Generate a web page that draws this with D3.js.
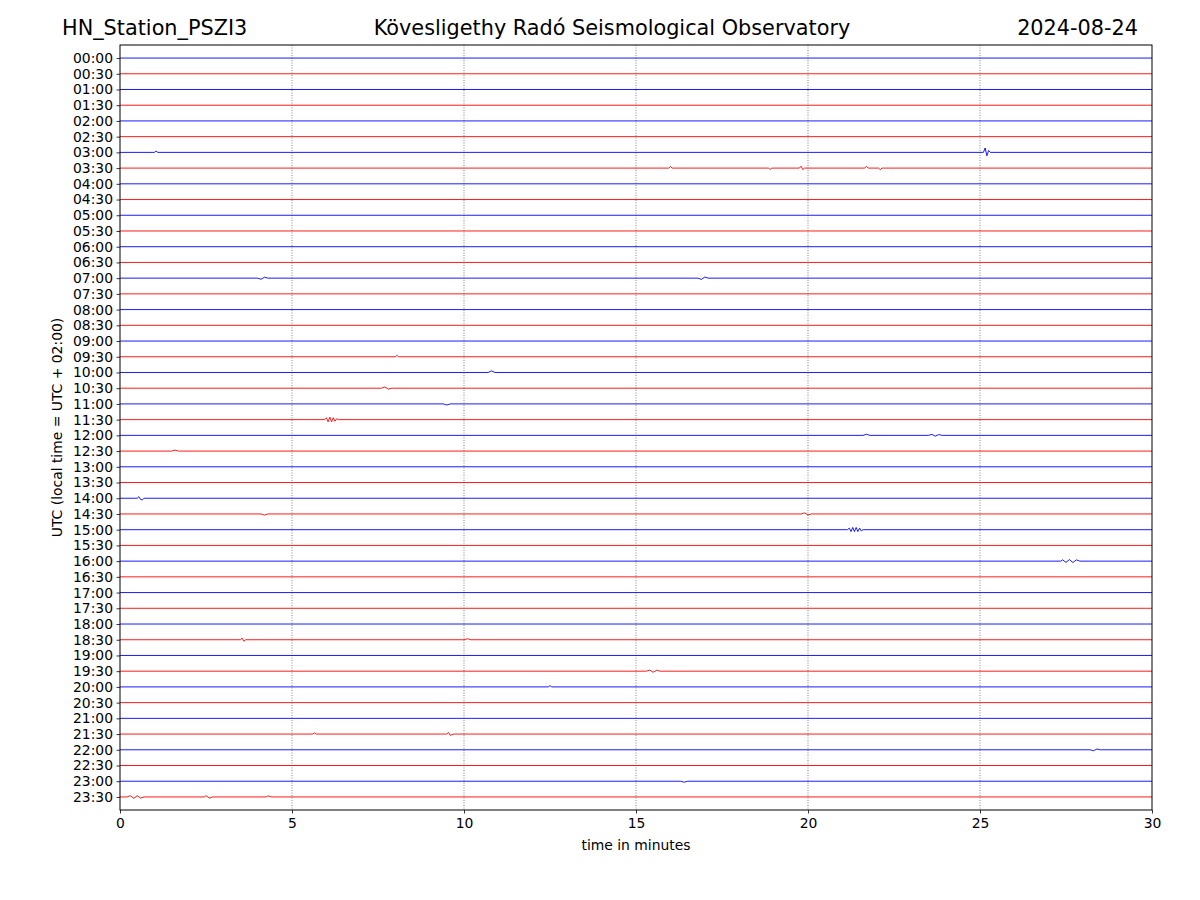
<!DOCTYPE html>
<html>
<head>
<meta charset="utf-8">
<script src="https://cdn.jsdelivr.net/npm/d3@7"></script>
<style>
  body { margin: 0; background: #fff; }
  text { font-family: "DejaVu Sans", sans-serif; }
</style>
</head>
<body>
<div id="chart"></div>
<script>
const width = 1200;
const height = 900;

// ---- data ----
const stationName = "HN_Station_PSZI3";
const observatory = "Kövesligethy Radó Seismological Observatory";
const dayLabel = "2024-08-24";

const rowLabels = [
  "00:00", "00:30", "01:00", "01:30", "02:00", "02:30", "03:00", "03:30",
  "04:00", "04:30", "05:00", "05:30", "06:00", "06:30", "07:00", "07:30",
  "08:00", "08:30", "09:00", "09:30", "10:00", "10:30", "11:00", "11:30",
  "12:00", "12:30", "13:00", "13:30", "14:00", "14:30", "15:00", "15:30",
  "16:00", "16:30", "17:00", "17:30", "18:00", "18:30", "19:00", "19:30",
  "20:00", "20:30", "21:00", "21:30", "22:00", "22:30", "23:00", "23:30",
];
const xTicks = [0, 5, 10, 15, 20, 25, 30];

// visible wiggles per row: [minute, offset in row units]
const events = [
  { row: "03:00", pts: [[1.0, 0], [1.05, -0.08], [1.1, 0], [25.1, 0], [25.15, -0.28], [25.2, 0.22], [25.25, -0.12], [25.3, 0]] },
  { row: "03:30", pts: [[15.95, 0], [16.0, -0.1], [16.05, 0], [18.85, 0], [18.9, 0.08], [18.95, 0], [19.75, 0], [19.8, -0.12], [19.85, 0.1], [19.9, 0], [21.65, 0], [21.7, -0.12], [21.75, 0], [22.05, 0], [22.1, 0.1], [22.15, 0]] },
  { row: "07:00", pts: [[4.0, 0], [4.1, 0.07], [4.2, -0.06], [4.3, 0], [16.8, 0], [16.9, 0.08], [17.0, -0.07], [17.1, 0]] },
  { row: "09:30", pts: [[8.0, 0], [8.05, -0.08], [8.1, 0]] },
  { row: "10:00", pts: [[10.7, 0], [10.8, -0.1], [10.9, 0]] },
  { row: "10:30", pts: [[7.6, 0], [7.7, -0.08], [7.8, 0.06], [7.9, 0]] },
  { row: "11:00", pts: [[9.4, 0], [9.5, 0.07], [9.6, 0]] },
  { row: "11:30", pts: [[5.95, 0], [6.0, -0.12], [6.05, 0.14], [6.1, -0.16], [6.15, 0.14], [6.2, -0.12], [6.25, 0.1], [6.3, -0.06], [6.35, 0]] },
  { row: "12:00", pts: [[21.6, 0], [21.7, -0.07], [21.8, 0], [23.5, 0], [23.6, -0.06], [23.7, 0.05], [23.8, -0.05], [23.9, 0]] },
  { row: "12:30", pts: [[1.5, 0], [1.6, -0.06], [1.7, 0]] },
  { row: "14:00", pts: [[0.5, 0], [0.55, -0.1], [0.6, 0.08], [0.65, 0.1], [0.7, 0]] },
  { row: "14:30", pts: [[4.1, 0], [4.2, 0.07], [4.3, 0], [19.8, 0], [19.9, -0.07], [20.0, 0.06], [20.1, 0]] },
  { row: "15:00", pts: [[21.15, 0], [21.2, -0.1], [21.25, 0.12], [21.3, -0.14], [21.35, 0.12], [21.4, -0.14], [21.45, 0.12], [21.5, -0.1], [21.55, 0.08], [21.6, 0]] },
  { row: "16:00", pts: [[27.35, 0], [27.4, -0.08], [27.5, 0.08], [27.6, -0.1], [27.7, 0.09], [27.8, -0.08], [27.9, 0]] },
  { row: "18:30", pts: [[3.5, 0], [3.55, -0.1], [3.6, 0.1], [3.65, 0], [10.0, 0], [10.1, -0.06], [10.2, 0]] },
  { row: "19:30", pts: [[15.3, 0], [15.4, -0.07], [15.5, 0.07], [15.6, -0.06], [15.7, 0]] },
  { row: "20:00", pts: [[12.45, 0], [12.5, -0.08], [12.55, 0]] },
  { row: "21:30", pts: [[5.6, 0], [5.65, -0.07], [5.7, 0], [9.5, 0], [9.55, -0.1], [9.6, 0.08], [9.7, 0]] },
  { row: "22:00", pts: [[28.2, 0], [28.3, 0.06], [28.4, -0.05], [28.5, 0]] },
  { row: "23:00", pts: [[16.3, 0], [16.4, 0.06], [16.5, 0]] },
  { row: "23:30", pts: [[0.2, 0], [0.3, -0.08], [0.4, 0.09], [0.5, -0.08], [0.6, 0.07], [0.7, 0], [2.45, 0], [2.5, -0.08], [2.6, 0.07], [2.7, 0], [4.25, 0], [4.3, -0.07], [4.4, 0]] },
];

// ---- layout ----
const margin = { top: 45, right: 48, bottom: 90, left: 120 };
const innerW = width - margin.left - margin.right;
const innerH = height - margin.top - margin.bottom;

const svg = d3
  .select("#chart")
  .append("svg")
  .attr("width", width)
  .attr("height", height);

const x = d3.scaleLinear().domain([0, 30]).range([0, innerW]);
const y = d3
  .scaleLinear()
  .domain([-0.83, rowLabels.length - 1 + 0.83])
  .range([0, innerH]);

const g = svg
  .append("g")
  .attr("transform", `translate(${margin.left},${margin.top})`);

//-----grid lines-----//
g.append("g")
  .selectAll("line")
  .data(xTicks.slice(1, -1))
  .join("line")
  .attr("x1", (d) => x(d))
  .attr("x2", (d) => x(d))
  .attr("y1", 0)
  .attr("y2", innerH)
  .attr("stroke", "#333")
  .attr("stroke-width", 0.6)
  .attr("stroke-dasharray", "1,1.5");

//-----traces-----//
const eventsByRow = new Map(events.map((e) => [e.row, e.pts]));
const line = d3
  .line()
  .x((d) => x(d[0]))
  .y((d) => y(d[1]));

const traces = rowLabels.map((label, i) => {
  const pts = eventsByRow.get(label) || [];
  return {
    i: i,
    pts: [[0, 0], ...pts, [30, 0]].map((p) => [p[0], i + p[1]]),
  };
});

g.append("g")
  .attr("class", "traces")
  .selectAll("path")
  .data(traces)
  .join("path")
  .attr("fill", "none")
  .attr("stroke", (d) => (d.i % 2 === 0 ? "#0000ff" : "#ff0000"))
  .attr("stroke-width", 0.9)
  .attr("stroke-linejoin", "round")
  .attr("d", (d) => line(d.pts));

//-----axes-----//
const yAxis = d3
  .axisLeft(y)
  .tickValues(d3.range(rowLabels.length))
  .tickFormat((d) => rowLabels[d])
  .tickSize(3.5)
  .tickPadding(3.5);
const gy = g.append("g").call(yAxis);
gy.select(".domain").remove();
gy.selectAll("text").attr("font-size", 13.9).attr("fill", "#000");
gy.selectAll("line").attr("stroke", "#000").attr("stroke-width", 0.8);

const xAxis = d3
  .axisBottom(x)
  .tickValues(xTicks)
  .tickSize(3.5)
  .tickPadding(5);
const gx = g.append("g").attr("transform", `translate(0,${innerH})`).call(xAxis);
gx.select(".domain").remove();
gx.selectAll("text").attr("font-size", 13.9).attr("fill", "#000");
gx.selectAll("line").attr("stroke", "#000").attr("stroke-width", 0.8);

// frame
g.append("rect")
  .attr("width", innerW)
  .attr("height", innerH)
  .attr("fill", "none")
  .attr("stroke", "#000")
  .attr("stroke-width", 1);

//-----labels-----//
svg
  .append("text")
  .attr("x", margin.left + innerW / 2)
  .attr("y", 850)
  .attr("text-anchor", "middle")
  .attr("font-size", 13.9)
  .text("time in minutes");

svg
  .append("text")
  .attr("transform", `translate(62,${margin.top + innerH / 2}) rotate(-90)`)
  .attr("text-anchor", "middle")
  .attr("font-size", 13.9)
  .text("UTC (local time = UTC + 02:00)");

svg
  .append("text")
  .attr("x", 62)
  .attr("y", 35)
  .attr("font-size", 20.8)
  .text(stationName);

svg
  .append("text")
  .attr("x", 612)
  .attr("y", 35)
  .attr("text-anchor", "middle")
  .attr("font-size", 20.8)
  .text(observatory);

svg
  .append("text")
  .attr("x", 1138)
  .attr("y", 35)
  .attr("text-anchor", "end")
  .attr("font-size", 20.8)
  .text(dayLabel);
</script>
</body>
</html>
